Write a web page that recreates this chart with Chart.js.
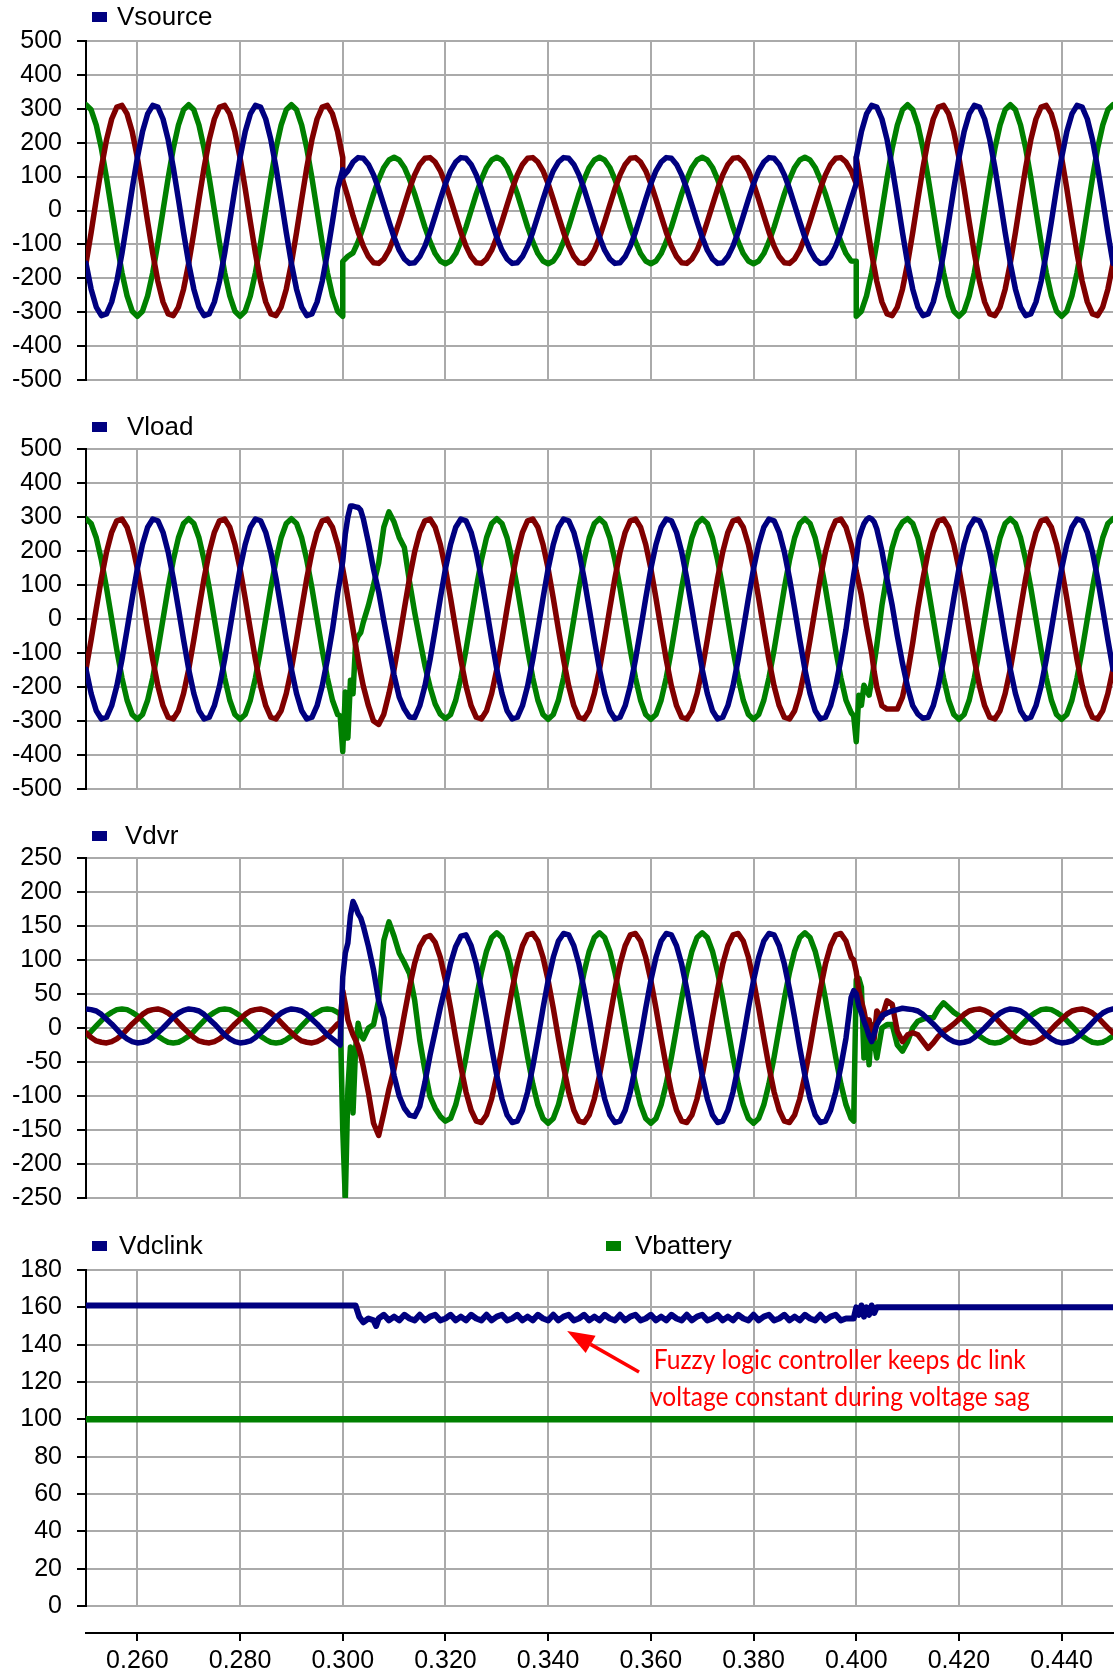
<!DOCTYPE html>
<html>
<head>
<meta charset="utf-8">
<title>DVR with fuzzy logic controller - voltage sag</title>
<script src="https://cdn.jsdelivr.net/npm/chart.js@4.4.1/dist/chart.umd.min.js"></script>
<style>
  html, body { margin: 0; padding: 0; background: #fff; }
  #wrap { position: relative; width: 1115px; height: 1677px; }
  canvas { position: absolute; left: 0; }
</style>
</head>
<body>
<div id="wrap">
  <canvas id="c1" width="1115" height="410" style="top:0"></canvas>
  <canvas id="c2" width="1115" height="420" style="top:400px"></canvas>
  <canvas id="c3" width="1115" height="420" style="top:810px"></canvas>
  <canvas id="c4" width="1115" height="457" style="top:1220px"></canvas>
</div>
<script>
// time in ms (axis labels are shown in seconds)
const ms = [
  250,251,252,253,254,255,256,257,258,259,260,261,262,263,264,265,266,267,268,269,
  270,271,272,273,274,275,276,277,278,279,280,281,282,283,284,285,286,287,288,289,
  290,291,292,293,294,295,296,297,298,299,300,301,302,303,304,305,306,307,308,309,
  310,311,312,313,314,315,316,317,318,319,320,321,322,323,324,325,326,327,328,329,
  330,331,332,333,334,335,336,337,338,339,340,341,342,343,344,345,346,347,348,349,
  350,351,352,353,354,355,356,357,358,359,360,361,362,363,364,365,366,367,368,369,
  370,371,372,373,374,375,376,377,378,379,380,381,382,383,384,385,386,387,388,389,
  390,391,392,393,394,395,396,397,398,399,400,401,402,403,404,405,406,407,408,409,
  410,411,412,413,414,415,416,417,418,419,420,421,422,423,424,425,426,427,428,429,
  430,431,432,433,434,435,436,437,438,439,440,441,442,443,444,445,446,447,448,449,
  450];
const xTicks = [260, 280, 300, 320, 340, 360, 380, 400, 420, 440];

// Vsource
const srcBlue = [
  -156,-232,-285,-310,-305,-270,-209,-127,-33,65,156,232,285,310,305,270,209,127,33,-65,
  -156,-232,-285,-310,-305,-270,-209,-127,-33,65,156,232,285,310,305,270,209,127,33,-65,
  -156,-232,-285,-310,-305,-270,-209,-127,-33,65,120,117,143,156,154,136,105,64,16,-33,
  -79,-117,-143,-156,-154,-136,-105,-64,-16,33,79,117,143,156,154,136,105,64,16,-33,
  -79,-117,-143,-156,-154,-136,-105,-64,-16,33,79,117,143,156,154,136,105,64,16,-33,
  -79,-117,-143,-156,-154,-136,-105,-64,-16,33,79,117,143,156,154,136,105,64,16,-33,
  -79,-117,-143,-156,-154,-136,-105,-64,-16,33,79,117,143,156,154,136,105,64,16,-33,
  -79,-117,-143,-156,-154,-136,-105,-64,-16,33,79,232,285,310,305,270,209,127,33,-65,
  -156,-232,-285,-310,-305,-270,-209,-127,-33,65,156,232,285,310,305,270,209,127,33,-65,
  -156,-232,-285,-310,-305,-270,-209,-127,-33,65,156,232,285,310,305,270,209,127,33,-65,
  -156];
const srcBlueStep = [[300, 100], [400, 156]];
const srcRed = [
  -156,-65,33,127,209,270,305,310,285,232,156,65,-33,-127,-209,-270,-305,-310,-285,-232,
  -156,-65,33,127,209,270,305,310,285,232,156,65,-33,-127,-209,-270,-305,-310,-285,-232,
  -156,-65,33,127,209,270,305,310,285,232,156,40,-16,-64,-105,-136,-154,-156,-143,-117,
  -79,-33,16,64,105,136,154,156,143,117,79,33,-16,-64,-105,-136,-154,-156,-143,-117,
  -79,-33,16,64,105,136,154,156,143,117,79,33,-16,-64,-105,-136,-154,-156,-143,-117,
  -79,-33,16,64,105,136,154,156,143,117,79,33,-16,-64,-105,-136,-154,-156,-143,-117,
  -79,-33,16,64,105,136,154,156,143,117,79,33,-16,-64,-105,-136,-154,-156,-143,-117,
  -79,-33,16,64,105,136,154,156,143,117,79,65,-33,-127,-209,-270,-305,-310,-285,-232,
  -156,-65,33,127,209,270,305,310,285,232,156,65,-33,-127,-209,-270,-305,-310,-285,-232,
  -156,-65,33,127,209,270,305,310,285,232,156,65,-33,-127,-209,-270,-305,-310,-285,-232,
  -156];
const srcRedStep = [[300, 90], [400, 156]];
const srcGreen = [
  312,297,252,183,96,0,-96,-183,-252,-297,-312,-297,-252,-183,-96,0,96,183,252,297,
  312,297,252,183,96,0,-96,-183,-252,-297,-312,-297,-252,-183,-96,0,96,183,252,297,
  312,297,252,183,96,0,-96,-183,-252,-297,-312,-135,-125,-92,-49,0,49,92,127,149,
  157,149,127,92,49,0,-49,-92,-127,-149,-157,-149,-127,-92,-49,0,49,92,127,149,
  157,149,127,92,49,0,-49,-92,-127,-149,-157,-149,-127,-92,-49,0,49,92,127,149,
  157,149,127,92,49,0,-49,-92,-127,-149,-157,-149,-127,-92,-49,0,49,92,127,149,
  157,149,127,92,49,0,-49,-92,-127,-149,-157,-149,-127,-92,-49,0,49,92,127,149,
  157,149,127,92,49,0,-49,-92,-127,-149,-150,-297,-252,-183,-96,0,96,183,252,297,
  312,297,252,183,96,0,-96,-183,-252,-297,-312,-297,-252,-183,-96,0,96,183,252,297,
  312,297,252,183,96,0,-96,-183,-252,-297,-312,-297,-252,-183,-96,0,96,183,252,297,
  312];
const srcGreenStep = [[300, -150], [400, -312]];

// Vload
const loadBlue = [
  -148,-219,-270,-294,-289,-255,-197,-120,-31,61,148,219,270,294,289,255,197,120,31,-61,
  -148,-219,-270,-294,-289,-255,-197,-120,-31,61,148,219,270,294,289,255,197,120,31,-61,
  -148,-219,-270,-294,-289,-255,-197,-120,-31,75,170,300,332,328,295,225,146,80,-5,-85,
  -165,-230,-265,-288,-290,-255,-197,-120,-31,61,148,219,270,294,289,255,197,120,31,-61,
  -148,-219,-270,-294,-289,-255,-197,-120,-31,61,148,219,270,294,289,255,197,120,31,-61,
  -148,-219,-270,-294,-289,-255,-197,-120,-31,61,148,219,270,294,289,255,197,120,31,-61,
  -148,-219,-270,-294,-289,-255,-197,-120,-31,61,148,219,270,294,289,255,197,120,31,-61,
  -148,-219,-270,-294,-289,-255,-197,-120,-31,80,175,260,292,294,265,200,117,40,-50,-130,
  -200,-255,-280,-292,-289,-255,-197,-120,-31,61,148,219,270,294,289,255,197,120,31,-61,
  -148,-219,-270,-294,-289,-255,-197,-120,-31,61,148,219,270,294,289,255,197,120,31,-61,
  -148];
const loadBlueFine = [[299.5,120],[300.5,250],[301.5,332],[302.5,330],[303.5,320],
                      [399.5,130],[400.5,235],[401.5,280],[402.5,298],[403.5,285]];
const loadRed = [
  -148,-61,31,120,197,255,289,294,270,219,148,61,-31,-120,-197,-255,-289,-294,-270,-219,
  -148,-61,31,120,197,255,289,294,270,219,148,61,-31,-120,-197,-255,-289,-294,-270,-219,
  -148,-61,31,120,197,255,289,294,270,219,148,61,-31,-120,-197,-255,-300,-310,-280,-219,
  -148,-61,31,120,197,255,289,294,270,219,148,61,-31,-120,-197,-255,-289,-294,-270,-219,
  -148,-61,31,120,197,255,289,294,270,219,148,61,-31,-120,-197,-255,-289,-294,-270,-219,
  -148,-61,31,120,197,255,289,294,270,219,148,61,-31,-120,-197,-255,-289,-294,-270,-219,
  -148,-61,31,120,197,255,289,294,270,219,148,61,-31,-120,-197,-255,-289,-294,-270,-219,
  -148,-61,31,120,197,255,289,294,270,219,140,70,-20,-100,-200,-255,-265,-265,-265,-230,
  -160,-70,31,120,197,255,289,294,270,219,148,61,-31,-120,-197,-255,-289,-294,-270,-219,
  -148,-61,31,120,197,255,289,294,270,219,148,61,-31,-120,-197,-255,-289,-294,-270,-219,
  -148];
const loadRedFine = [[299.5,186],[300.5,106],[301.5,15],[302.5,-77],[303.5,-160],
                     [399.5,186],[400.5,105],[401.5,25],[402.5,-60],[403.5,-156]];
const loadGreen = [
  295,281,239,173,91,0,-91,-173,-239,-281,-295,-281,-239,-173,-91,0,91,173,239,281,
  295,281,239,173,91,0,-91,-173,-239,-281,-295,-281,-239,-173,-91,0,91,173,239,281,
  295,281,239,173,91,0,-91,-173,-239,-281,-390,-350,-220,-50,-10,40,100,165,270,315,
  285,240,210,110,20,-60,-137,-200,-250,-280,-293,-281,-239,-173,-91,0,91,173,239,281,
  295,281,239,173,91,0,-91,-173,-239,-281,-295,-281,-239,-173,-91,0,91,173,239,281,
  295,281,239,173,91,0,-91,-173,-239,-281,-295,-281,-239,-173,-91,0,91,173,239,281,
  295,281,239,173,91,0,-91,-173,-239,-281,-295,-281,-239,-173,-91,0,91,173,239,281,
  295,281,239,173,91,0,-91,-173,-239,-275,-361,-254,-210,-180,-78,40,130,210,260,285,
  295,281,239,173,91,0,-91,-173,-239,-281,-295,-281,-239,-173,-91,0,91,173,239,281,
  295,281,239,173,91,0,-91,-173,-239,-281,-295,-281,-239,-173,-91,0,91,173,239,281,
  295];
const loadGreenFine = [[299.5,-285],[300.5,-215],[301.5,-180],[302.5,-70],[303.5,-40],
                       [399.5,-285],[400.5,-224],[401.5,-195],[402.5,-224],[403.5,-130]];

// Vdvr
const dvrBlue = [
  28,27,25,20,13,6,-2,-10,-16,-20,-22,-21,-19,-14,-7,0,8,16,22,26,
  28,27,25,20,13,6,-2,-10,-16,-20,-22,-21,-19,-14,-7,0,8,16,22,26,
  28,27,25,20,13,6,-2,-10,-16,-22,75,125,186,168,150,120,85,40,15,-30,
  -70,-100,-118,-128,-130,-115,-80,-40,-5,30,61,95,120,135,137,121,94,57,15,-29,
  -70,-104,-128,-139,-137,-121,-94,-57,-15,29,70,104,128,139,137,121,94,57,15,-29,
  -70,-104,-128,-139,-137,-121,-94,-57,-15,29,70,104,128,139,137,121,94,57,15,-29,
  -70,-104,-128,-139,-137,-121,-94,-57,-15,29,70,104,128,139,137,121,94,57,15,-29,
  -70,-104,-128,-139,-137,-121,-94,-57,-15,45,50,22,0,-20,5,18,22,25,27,29,
  28,27,25,20,13,6,-2,-10,-16,-20,-22,-21,-19,-14,-7,0,8,16,22,26,
  28,27,25,20,13,6,-2,-10,-16,-20,-22,-21,-19,-14,-7,0,8,16,22,26,
  28];
const dvrBlueFine = [[299.5,-25],[300.5,110],[301.5,165],[302.5,178],[303.5,162],
                     [399.5,55],[400.5,32],[401.5,10],[402.5,-12],[403.5,-8]];
const dvrRed = [
  -7,-14,-19,-21,-22,-20,-16,-10,-2,6,13,20,25,27,28,26,22,16,8,0,
  -7,-14,-19,-21,-22,-20,-16,-10,-2,6,13,20,25,27,28,26,22,16,8,0,
  -7,-14,-19,-21,-22,-20,-16,-10,-2,6,55,12,-10,-27,-57,-95,-140,-158,-125,-90,
  -60,-22,20,60,95,120,133,136,126,104,70,29,-15,-57,-94,-121,-137,-139,-128,-104,
  -70,-29,15,57,94,121,137,139,128,104,70,29,-15,-57,-94,-121,-137,-139,-128,-104,
  -70,-29,15,57,94,121,137,139,128,104,70,29,-15,-57,-94,-121,-137,-139,-128,-104,
  -70,-29,15,57,94,121,137,139,128,104,70,29,-15,-57,-94,-121,-137,-139,-128,-104,
  -70,-29,15,57,94,121,137,139,128,104,83,40,5,-5,25,15,40,35,-5,-20,
  -10,-7,-10,-20,-30,-22,-12,-5,0,6,13,20,25,27,28,26,22,16,8,0,
  -7,-14,-19,-21,-22,-20,-16,-10,-2,6,13,20,25,27,28,26,22,16,8,0,
  -7];
const dvrRedFine = [[299.5,8],[300.5,35],[301.5,0],[302.5,-18],[303.5,-40],
                    [399.5,100],[400.5,55],[401.5,25],[402.5,12],[403.5,-15]];
const dvrGreen = [
  -12,-5,3,11,18,23,27,28,27,23,18,11,3,-5,-12,-17,-21,-22,-21,-17,
  -12,-5,3,11,18,23,27,28,27,23,18,11,3,-5,-12,-17,-21,-22,-21,-17,
  -12,-5,3,11,18,23,27,28,27,23,-150,-90,-125,7,-16,0,5,41,129,156,
  135,110,96,80,41,-18,-62,-101,-118,-130,-137,-133,-113,-82,-43,0,43,82,113,133,
  140,133,113,82,43,0,-43,-82,-113,-133,-140,-133,-113,-82,-43,0,43,82,113,133,
  140,133,113,82,43,0,-43,-82,-113,-133,-140,-133,-113,-82,-43,0,43,82,113,133,
  140,133,113,82,43,0,-43,-82,-113,-133,-140,-133,-113,-82,-43,0,43,82,113,133,
  140,133,113,82,43,0,-43,-82,-113,-133,71,60,5,5,-44,0,5,5,-25,-34,
  -20,0,10,13,15,15,28,37,30,23,18,11,3,-5,-12,-17,-21,-22,-21,-17,
  -12,-5,3,11,18,23,27,28,27,23,18,11,3,-5,-12,-17,-21,-22,-21,-17,
  -12];
const dvrGreenFine = [[299.5,20],[300.5,-253],[301.5,-28],[302.5,-30],[303.5,-10],
                      [399.5,-137],[400.5,73],[401.5,-44],[402.5,-54],[403.5,-20]];

// Vdclink / Vbattery
const dcMs = [250,302.5,303.2,304,305,306,306.5,307,
  308,309,310,311,312,313,314,315,316,317,
  318,319,320,321,322,323,324,325,326,327,
  328,329,330,331,332,333,334,335,336,337,
  338,339,340,341,342,343,344,345,346,347,
  348,349,350,351,352,353,354,355,356,357,
  358,359,360,361,362,363,364,365,366,367,
  368,369,370,371,372,373,374,375,376,377,
  378,379,380,381,382,383,384,385,386,387,
  388,389,390,391,392,393,394,395,396,397,
  398,
  399.5,400,400.5,401,401.5,402,402.5,403,403.5,404,450];
const vdclink = [161,161,155,152,154,153,150,154,
  156,153,155,153,156,154,153,156,153,155,
  156,153,154,156,153,155,153,156,154,153,
  156,153,155,156,153,154,156,153,155,153,
  156,154,153,156,153,155,156,153,154,156,
  153,155,153,156,154,153,156,153,155,156,
  153,154,156,153,155,153,156,154,153,156,
  153,155,156,153,154,156,153,155,153,156,
  154,153,156,153,155,156,153,154,156,153,
  155,153,156,154,153,156,153,155,156,153,
  154,
  154,160,156,161,155,160,156,161,157,160,160];
const batMs = [250, 450];
const vbattery = [100, 100];

const noteText = ['Fuzzy logic controller keeps dc link', 'voltage constant during voltage sag'];

const NAVY = '#000080', MAROON = '#800000', GREEN = '#008000', GRID = '#aaaaaa';
const TICK_FONT = { family: '"Liberation Sans", Arial, sans-serif', size: 25 };
Chart.defaults.font.family = TICK_FONT.family;

function series(label, color, base, fine, times, width) {
  const pts = (times || ms).map((t, i) => ({ x: t, y: base[i] }));
  (fine || []).forEach(p => pts.push({ x: p[0], y: p[1] }));
  pts.sort((a, b) => a.x - b.x);
  return {
    label: label, data: pts, xAxisID: 'x', yAxisID: 'y',
    borderColor: color, backgroundColor: color, borderWidth: width || 5.5,
    pointRadius: 0, tension: 0, borderJoinStyle: 'round', borderCapStyle: 'round'
  };
}

function legendPlugin(y, items) {
  return {
    id: 'panelLegend',
    afterDraw(chart) {
      const ctx = chart.ctx;
      ctx.save();
      ctx.font = '26px ' + TICK_FONT.family;
      ctx.textBaseline = 'middle';
      items.forEach(it => {
        const ds = chart.data.datasets[it.ds];
        ctx.fillStyle = ds.borderColor;
        ctx.fillRect(it.box, y - 5, 15, 10);
        ctx.fillStyle = '#000';
        ctx.fillText(ds.label, it.text, y + 1);
      });
      ctx.restore();
    }
  };
}

// red call-out in the dc panel, placed in data coordinates
const notePlugin = {
  id: 'sagNote',
  afterDatasetsDraw(chart) {
    const ctx = chart.ctx, xs = chart.scales.x, ys = chart.scales.y;
    const px = p => [xs.getPixelForValue(p[0]), ys.getPixelForValue(p[1])];
    const tail = px([357.7, 125.4]), tip = px([343.7, 147.3]);
    ctx.save();
    ctx.strokeStyle = '#ff0000';
    ctx.fillStyle = '#ff0000';
    ctx.lineWidth = 3.5;
    const a = Math.atan2(tip[1] - tail[1], tip[0] - tail[0]);
    const bx = tip[0] - 27 * Math.cos(a), by = tip[1] - 27 * Math.sin(a);
    ctx.beginPath(); ctx.moveTo(tail[0], tail[1]); ctx.lineTo(bx, by); ctx.stroke();
    ctx.beginPath();
    ctx.moveTo(tip[0], tip[1]);
    ctx.lineTo(bx + 10 * Math.sin(a), by - 10 * Math.cos(a));
    ctx.lineTo(bx - 10 * Math.sin(a), by + 10 * Math.cos(a));
    ctx.closePath(); ctx.fill();
    ctx.font = '27px Lato, "Open Sans", sans-serif';
    ctx.textAlign = 'center';
    ctx.textBaseline = 'middle';
    const sx = 372 / ctx.measureText(noteText[0]).width;
    const at = [[396.8, 131.8], [396.8, 112]];
    noteText.forEach((s, i) => {
      const c = px(at[i]);
      ctx.save(); ctx.translate(c[0], c[1]); ctx.scale(sx, 1); ctx.fillText(s, 0, 0); ctx.restore();
    });
    ctx.restore();
  }
};

function scalesFor(yMin, yMax, yStep, withAxis) {
  const s = {
    x: {
      type: 'linear', position: 'bottom', weight: 1, min: 250, max: 450,
      afterBuildTicks: sc => { sc.ticks = xTicks.map(v => ({ value: v })); },
      afterFit: sc => { sc.height = withAxis ? 44 : 0; },
      grid: { color: GRID, lineWidth: 2, drawTicks: withAxis, tickLength: 8, tickColor: '#000', tickWidth: 2 },
      border: { display: withAxis, color: '#000', width: 2 },
      ticks: { display: withAxis, autoSkip: false, maxRotation: 0, padding: 5, color: '#000', font: TICK_FONT,
               callback: v => (v / 1000).toFixed(3) }
    },
    y: {
      type: 'linear', position: 'left', min: yMin, max: yMax,
      afterFit: sc => { sc.width = 86; },
      grid: { color: GRID, lineWidth: 2, tickLength: 9, tickColor: '#000', tickWidth: 2 },
      border: { color: '#000', width: 2 },
      ticks: { stepSize: yStep, padding: 15, color: '#000', font: TICK_FONT }
    }
  };
  if (withAxis) {
    // empty band between the plot and the time axis
    s.gap = {
      type: 'linear', position: 'bottom', weight: 0,
      grid: { display: false }, border: { display: false }, ticks: { display: false },
      afterFit: sc => { sc.height = 27; }
    };
  }
  return s;
}

function makeChart(id, datasets, pad, scales, plugins) {
  return new Chart(document.getElementById(id), {
    type: 'line',
    data: { datasets: datasets },
    options: {
      responsive: false, animation: false, parsing: false, normalized: true,
      layout: { padding: pad },
      plugins: { legend: { display: false }, tooltip: { enabled: false } },
      scales: scales
    },
    plugins: plugins
  });
}

// Vsource
makeChart('c1', [
  series('Vsource', NAVY, srcBlue, srcBlueStep),
  series('Vsource b', MAROON, srcRed, srcRedStep),
  series('Vsource c', GREEN, srcGreen, srcGreenStep)
], { top: 41, bottom: 30, left: 0, right: 2 }, scalesFor(-500, 500, 100, false),
  [legendPlugin(17, [{ ds: 0, box: 92, text: 117 }])]);

// Vload
makeChart('c2', [
  series('Vload', NAVY, loadBlue, loadBlueFine),
  series('Vload b', MAROON, loadRed, loadRedFine),
  series('Vload c', GREEN, loadGreen, loadGreenFine)
], { top: 49, bottom: 31, left: 0, right: 2 }, scalesFor(-500, 500, 100, false),
  [legendPlugin(27, [{ ds: 0, box: 92, text: 127 }])]);

// Vdvr
makeChart('c3', [
  series('Vdvr', NAVY, dvrBlue, dvrBlueFine),
  series('Vdvr b', MAROON, dvrRed, dvrRedFine),
  series('Vdvr c', GREEN, dvrGreen, dvrGreenFine)
], { top: 48, bottom: 32, left: 0, right: 2 }, scalesFor(-250, 250, 50, false),
  [legendPlugin(26, [{ ds: 0, box: 92, text: 125 }])]);

// Vdclink / Vbattery
makeChart('c4', [
  series('Vdclink', NAVY, vdclink, null, dcMs, 6),
  series('Vbattery', GREEN, vbattery, null, batMs, 6.5)
], { top: 50, bottom: 0, left: 0, right: 2 }, scalesFor(0, 180, 20, true),
  [legendPlugin(26, [{ ds: 0, box: 92, text: 119 }, { ds: 1, box: 606, text: 635 }]), notePlugin]);
</script>
</body>
</html>
